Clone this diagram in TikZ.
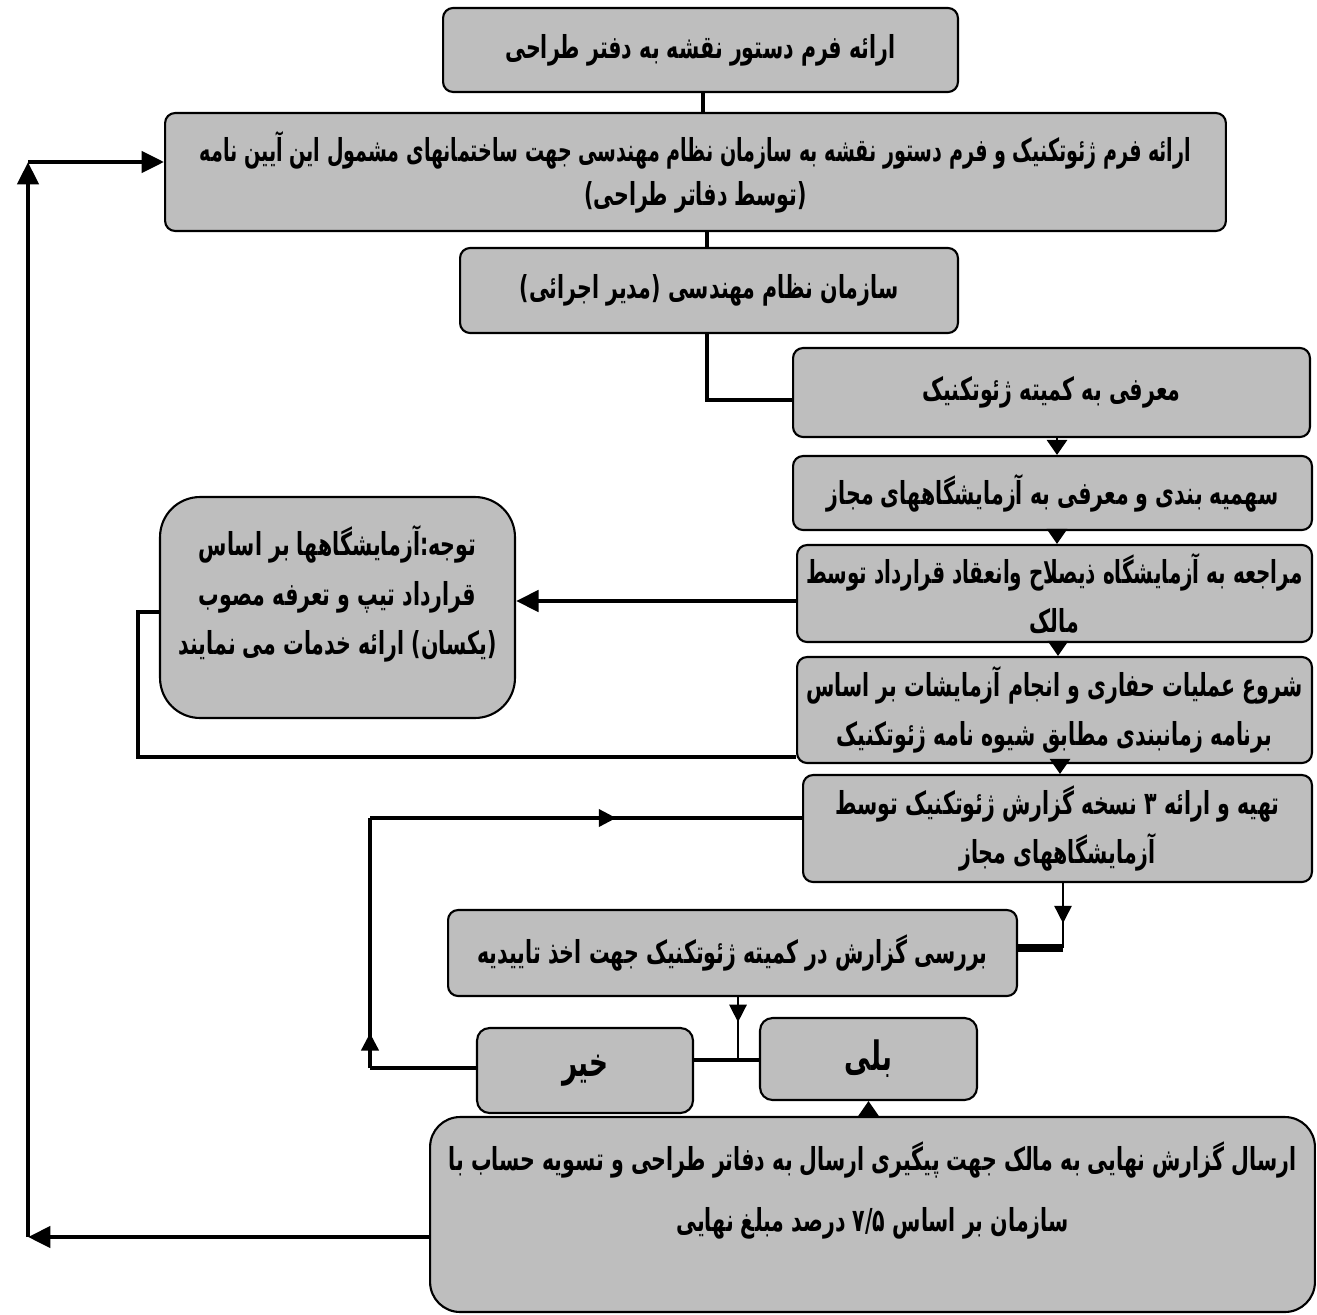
\documentclass[tikz,border=0pt]{standalone}
\usepackage{fontspec}
\usepackage{graphicx}
\newfontfamily\fa[Script=Arabic,FakeStretch=0.65]{DejaVu Sans}
\TeXXeTstate=1
\usetikzlibrary{arrows.meta,decorations.markings}
\definecolor{boxgray}{RGB}{190,190,190}
\newcommand{\RL}[2][1]{\scalebox{#1}[1]{\beginR #2\endR}}
\begin{document}
\begin{tikzpicture}[x=0.02cm,y=-0.02cm,
  box/.style={draw=black,line width=1.2pt,fill=boxgray,rounded corners=0.2cm,
    inner sep=0pt,align=center,font={\fa\bfseries\fontsize{18pt}{28pt}\selectfont}},
  bigtxt/.style={font={\fa\bfseries\fontsize{23pt}{28pt}\selectfont}},
  conn/.style={line width=2.2pt},
  thinconn/.style={line width=1.6pt},
  stepArrow/.style={line width=1.6pt,-{Triangle[length=0.3cm,width=0.4cm]}},
  bigArrow/.style={line width=2.6pt,-{Triangle[length=0.45cm,width=0.42cm]}},
  midarrow/.style={postaction={decorate},decoration={markings,
    mark=at position #1 with {\arrow{Triangle[length=0.35cm,width=0.34cm]}}}}
]
\useasboundingbox (0,0) rectangle (1317,1314);
\fill[white] (0,0) rectangle (1317,1314);

% boxes
\node[box,minimum width=10.3cm,minimum height=1.68cm] (b1) at (700.5,50) {\RL{ارائه فرم دستور نقشه به دفتر طراحی}};
\node[box,minimum width=21.22cm,minimum height=2.36cm] (b2) at (695.5,172) {\RL[0.93]{ارائه فرم ژئوتکنیک و فرم دستور نقشه به سازمان نظام مهندسی جهت ساختمانهای مشمول این آیین نامه}\\[-3pt] \RL{(توسط دفاتر طراحی)}};
\node[box,minimum width=9.96cm,minimum height=1.7cm] (b3) at (709,290.5) {\RL{سازمان نظام مهندسی (مدیر اجرائی)}};
\node[box,minimum width=10.34cm,minimum height=1.78cm] (b4) at (1051.5,392.5) {\RL{معرفی به کمیته ژئوتکنیک}};
\node[box,minimum width=10.38cm,minimum height=1.48cm] (b5) at (1052.5,493) {\RL{سهمیه بندی و معرفی به آزمایشگاههای مجاز}};
\node[box,minimum width=10.3cm,minimum height=1.94cm] (b6) at (1054.5,593.5) {\RL[0.97]{مراجعه به آزمایشگاه ذیصلاح وانعقاد قرارداد توسط}\\ \RL{مالک}};
\node[box,minimum width=10.3cm,minimum height=2.12cm] (b7) at (1054.5,710) {\RL{شروع عملیات حفاری و انجام آزمایشات بر اساس}\\ \RL{برنامه زمانبندی مطابق شیوه نامه ژئوتکنیک}};
\node[box,minimum width=10.18cm,minimum height=2.14cm] (b8) at (1057.5,828.5) {\RL{تهیه و ارائه ۳ نسخه گزارش ژئوتکنیک توسط}\\ \RL{آزمایشگاههای مجاز}};
\node[box,minimum width=11.38cm,minimum height=1.72cm] (b9) at (732.5,953) {\RL{بررسی گزارش در کمیته ژئوتکنیک جهت اخذ تاییدیه}};
\node[box,rounded corners=0.8cm,minimum width=7.1cm,minimum height=4.42cm] (note) at (337.5,607.5) {\RL{توجه:آزمایشگاهها بر اساس}\\ \RL{قرارداد تیپ و تعرفه مصوب}\\ \RL{(یکسان) ارائه خدمات می نمایند}\\[-8pt]\mbox{}};
\node[box,bigtxt,rounded corners=0.25cm,minimum width=4.32cm,minimum height=1.7cm] (no) at (585,1070.5) {\RL{خیر}};
\node[box,bigtxt,rounded corners=0.25cm,minimum width=4.34cm,minimum height=1.64cm] (yes) at (868.5,1059) {\RL{بلی}};
\node[box,rounded corners=0.6cm,minimum width=17.7cm,minimum height=3.9cm] (fin) at (872.5,1214.5) {\RL{ارسال گزارش نهایی به مالک جهت پیگیری ارسال به دفاتر طراحی و تسویه حساب با}\\[7pt] \RL{سازمان بر اساس \beginL۷/۵\endL{} درصد مبلغ نهایی}\\[4pt] \mbox{}};

% coordinates
\coordinate (j) at (738,1060);
\coordinate (lp1) at (138,757);
\coordinate (lp2) at (370,818);
\coordinate (lp3) at (370,1068);
\coordinate (lc1) at (28,1237);
\coordinate (lc2) at (28,162);
\coordinate (d9) at (1063,948);

% connectors
\draw[conn] (b1.south -| 703,0) -- (b2.north -| 703,0);
\draw[conn] (b2.south -| 707,0) -- (b3.north -| 707,0);
\draw[conn] (b3.south -| 707,0) |- (b4.west |- 0,400);
\draw[stepArrow] (b4.south -| 1057,0) -- (b5.north -| 1057,0);
\draw[stepArrow] (b5.south -| 1057,0) -- (b6.north -| 1057,0);
\draw[stepArrow] (b6.south -| 1058,0) -- (b7.north -| 1058,0);
\draw[stepArrow] (b7.south -| 1060,0) -- (b8.north -| 1060,0);
\draw[thinconn,midarrow=0.62] (b8.south -| d9) -- (d9);
\draw[line width=4pt] (d9) -- (b9.east |- d9);
\draw[thinconn,midarrow=0.4] (b9.south -| j) -- (j);
\draw[conn] (no.east |- j) -- (yes.west |- j);
\draw[bigArrow] (b6.west |- 0,601) -- (note.east |- 0,601);
\draw[conn] (b7.west |- lp1) -- (lp1) |- (note.west |- 0,612);
\draw[conn] (no.west |- lp3) -- (lp3);
\draw[conn,midarrow=0.14] (lp3) -- (lp2);
\draw[conn,midarrow=0.57] (lp2) -- (b8.west |- lp2);
\draw[stepArrow] (yes.south |- fin.north) -- (yes.south);
\draw[bigArrow] (fin.west |- lc1) -- (lc1);
\draw[bigArrow] (lc1) -- (lc2);
\draw[bigArrow] (lc2) -- (b2.west |- lc2);
\end{tikzpicture}
\end{document}
